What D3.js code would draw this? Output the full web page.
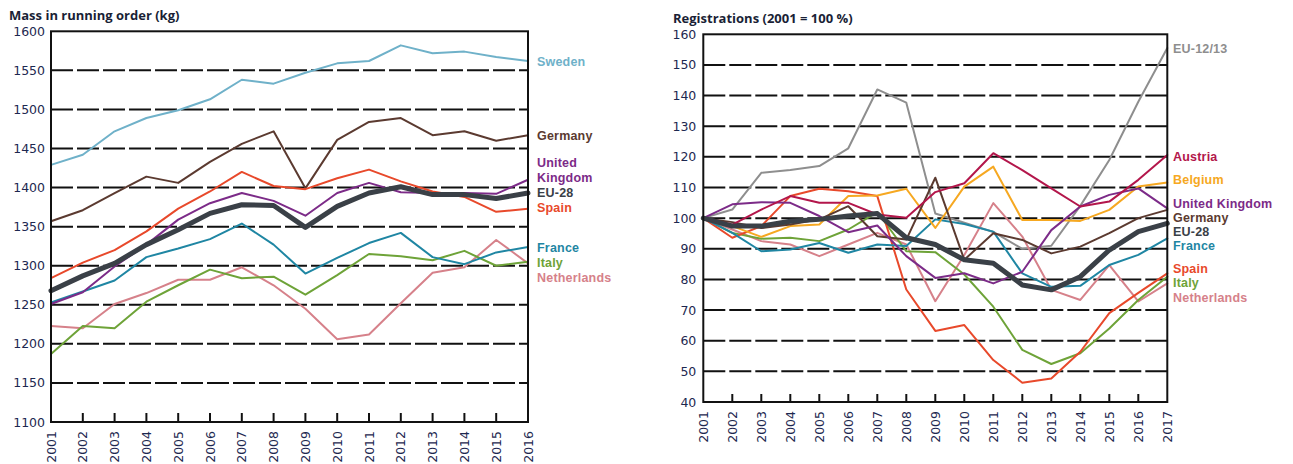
<!DOCTYPE html>
<html><head><meta charset="utf-8">
<script src="https://cdn.jsdelivr.net/npm/d3@7"></script>
<style>
html,body{margin:0;padding:0;background:#fff;}
svg{display:block;}
.tick-label{font-family:"DejaVu Sans",sans-serif;font-size:12.5px;fill:#1d2850;}
.title{font-family:"Open Sans",sans-serif;font-size:13px;font-weight:700;fill:#1a1f36;}
.lab{font-family:"Liberation Sans",Arial,sans-serif;font-size:12.5px;font-weight:700;letter-spacing:0.2px;}
</style>
</head><body>
<script>
// ---------- data: left chart (mass in running order, kg) ----------
const massYears = [2001,2002,2003,2004,2005,2006,2007,2008,2009,2010,2011,2012,2013,2014,2015,2016];
const massTicks = [1100,1150,1200,1250,1300,1350,1400,1450,1500,1550,1600];
const massSweden      = [1429,1442,1472,1489,1499,1513,1538,1533,1547,1559,1562,1582,1572,1574,1567,1562];
const massGermany     = [1357,1371,1393,1414,1406,1433,1456,1472,1399,1461,1484,1489,1467,1472,1460,1467];
const massUK          = [1251,1266,1299,1327,1359,1380,1393,1383,1364,1393,1406,1394,1393,1393,1392,1410];
const massEU28        = [1268,1287,1303,1327,1346,1367,1378,1377,1349,1376,1393,1401,1391,1391,1386,1393];
const massSpain       = [1284,1304,1320,1344,1373,1395,1420,1402,1398,1412,1423,1408,1395,1388,1369,1373];
const massFrance      = [1253,1267,1281,1311,1322,1334,1354,1327,1290,1310,1329,1342,1311,1302,1317,1324];
const massItaly       = [1187,1223,1220,1254,1275,1295,1284,1286,1263,1288,1315,1312,1307,1319,1300,1305];
const massNetherlands = [1223,1220,1251,1265,1282,1282,1298,1275,1245,1206,1212,1252,1291,1298,1333,1303];

// ---------- data: right chart (registrations, 2001 = 100 %) ----------
const regYears = [2001,2002,2003,2004,2005,2006,2007,2008,2009,2010,2011,2012,2013,2014,2015,2016,2017];
const regTicks = [40,50,60,70,80,90,100,110,120,130,140,150,160];
const regEU1213      = [100,102.8,114.8,115.7,117,122.8,142,137.7,101.5,98.5,95.5,90,91,104,119,138,155.5];
const regAustria     = [100,97.9,102.8,107.2,105,105,101.2,100.1,108.5,111.4,121.2,115.7,109.7,103.8,105.4,112.5,120.6];
const regBelgium     = [100,97.4,93.9,97.4,97.9,107.2,107.4,109.6,96.8,110.3,116.8,99.4,99.4,99.1,102.7,110.3,111.6];
const regUK          = [100,104.5,105.2,105,100.7,95.4,97.6,87.6,80.5,82,78.7,82.5,96.1,103.8,107.6,109.7,103.2];
const regGermany     = [100,98.7,96.8,97.9,99.6,103.9,94.1,93,113.2,86.4,95.1,92.9,88.5,90.7,95.1,100,102.7];
const regEU28        = [100,97.4,97.4,99,99.6,100.7,101.5,93.6,91.4,86.4,85.3,78.2,76.6,80.9,89.6,95.6,98.3];
const regFrance      = [100,95.2,89.2,89.8,91.9,88.7,91.4,90.9,99.6,98.1,95.6,82,77.6,77.9,84.7,88,93.4];
const regSpain       = [100,93.6,97.4,107.2,109.6,108.8,107.2,76.7,63.2,65.1,53.7,46.3,47.7,56.4,69,75.6,82];
const regItaly       = [100,95.2,93.3,93.6,92.5,96.3,102,89.2,88.9,81.6,71.1,57,52.4,55.9,64,73.3,80.9];
const regNetherlands = [100,96.3,92.5,91.4,87.6,91.4,95.2,91.4,72.9,88,104.9,94,76.6,73.3,84.7,72.8,78.7];

// ---------- styles / layout ----------
const C = {
  sweden:"#6fb1c9", germany:"#5b3a30", uk:"#7c2b88", eu28:"#3a4047", spain:"#e8492b",
  france:"#1f86a3", italy:"#6ea338", netherlands:"#d6818a", eu1213:"#8e8e8e",
  austria:"#b3164b", belgium:"#f6a821"
};

const W = 1293, H = 464;
const svg = d3.select("body").append("svg").attr("width", W).attr("height", H);

function drawPanel(cfg){
  const g = svg.append("g");
  const x = d3.scaleLinear().domain([cfg.years[0], cfg.years[cfg.years.length-1]]).range([cfg.x0, cfg.x1]);
  const y = d3.scaleLinear().domain([cfg.ticks[0], cfg.ticks[cfg.ticks.length-1]]).range([cfg.y1, cfg.y0]);

  // gridlines (dashed)
  g.selectAll("line.grid").data(cfg.ticks.slice(1, -1)).enter().append("line")
    .attr("x1", cfg.x0).attr("x2", cfg.x1)
    .attr("y1", d => y(d)).attr("y2", d => y(d))
    .attr("stroke", "#111").attr("stroke-width", 2).attr("stroke-dasharray", "22,4");

  // y axis labels
  const ya = d3.axisLeft(y).tickValues(cfg.ticks).tickSize(0).tickPadding(cfg.ypad).tickFormat(d3.format("d"));
  const yg = g.append("g").attr("transform", `translate(${cfg.x0},0)`).call(ya);
  yg.select(".domain").remove();
  yg.selectAll("text").attr("class", "tick-label").attr("font-size", null).attr("font-family", null).attr("fill", null);

  // x ticks (inside, upward)
  g.selectAll("line.xt").data(cfg.years.slice(1, -1)).enter().append("line")
    .attr("x1", d => x(d)).attr("x2", d => x(d))
    .attr("y1", cfg.y1).attr("y2", cfg.y1 - cfg.tickLen)
    .attr("stroke", "#111").attr("stroke-width", 2);

  // x labels rotated
  g.selectAll("text.xl").data(cfg.years).enter().append("text")
    .attr("class", "tick-label")
    .attr("transform", d => `translate(${x(d)},${cfg.y1 + 9}) rotate(-90)`)
    .attr("text-anchor", "end").attr("dy", "0.36em")
    .text(d => d);

  // series
  const line = d3.line().x((d, i) => x(cfg.years[i])).y(d => y(d));
  cfg.series.forEach(s => {
    g.append("path").datum(s.values)
      .attr("fill", "none").attr("stroke", s.color)
      .attr("stroke-width", s.width || 2)
      .attr("stroke-linejoin", "round").attr("stroke-linecap", "round")
      .attr("d", line);
  });

  // frame
  g.append("rect").attr("x", cfg.x0).attr("y", cfg.y0)
    .attr("width", cfg.x1 - cfg.x0).attr("height", cfg.y1 - cfg.y0)
    .attr("fill", "none").attr("stroke", "#111").attr("stroke-width", 2);

  // title
  svg.append("text").attr("class", "title").attr("x", cfg.titleX).attr("y", cfg.titleY).text(cfg.title);

  // labels
  cfg.labels.forEach(l => {
    svg.append("text").attr("class", "lab").attr("x", cfg.labelX).attr("y", l.y)
      .attr("fill", l.color).text(l.text);
  });
}

drawPanel({
  years: massYears, ticks: massTicks,
  x0: 51, x1: 528, y0: 31.3, y1: 422, ypad: 6, tickLen: 9,
  title: "Mass in running order (kg)", titleX: 9, titleY: 19.5,
  labelX: 537,
  series: [
    {values: massSweden, color: C.sweden},
    {values: massNetherlands, color: C.netherlands},
    {values: massItaly, color: C.italy},
    {values: massFrance, color: C.france},
    {values: massGermany, color: C.germany},
    {values: massSpain, color: C.spain},
    {values: massUK, color: C.uk},
    {values: massEU28, color: C.eu28, width: 5}
  ],
  labels: [
    {text: "Sweden", y: 66, color: C.sweden},
    {text: "Germany", y: 140, color: C.germany},
    {text: "United", y: 166.5, color: C.uk},
    {text: "Kingdom", y: 182, color: C.uk},
    {text: "EU-28", y: 197, color: C.eu28},
    {text: "Spain", y: 211.5, color: C.spain},
    {text: "France", y: 251.5, color: C.france},
    {text: "Italy", y: 266.5, color: C.italy},
    {text: "Netherlands", y: 281.5, color: C.netherlands}
  ]
});

drawPanel({
  years: regYears, ticks: regTicks,
  x0: 703.3, x1: 1167.3, y0: 34.3, y1: 402, ypad: 7, tickLen: 8,
  title: "Registrations (2001 = 100 %)", titleX: 673, titleY: 22.5,
  labelX: 1173,
  series: [
    {values: regEU1213, color: C.eu1213},
    {values: regNetherlands, color: C.netherlands},
    {values: regItaly, color: C.italy},
    {values: regSpain, color: C.spain},
    {values: regFrance, color: C.france},
    {values: regBelgium, color: C.belgium},
    {values: regGermany, color: C.germany},
    {values: regUK, color: C.uk},
    {values: regAustria, color: C.austria},
    {values: regEU28, color: C.eu28, width: 5}
  ],
  labels: [
    {text: "EU-12/13", y: 53, color: C.eu1213},
    {text: "Austria", y: 161, color: C.austria},
    {text: "Belgium", y: 183.5, color: C.belgium},
    {text: "United Kingdom", y: 208, color: C.uk},
    {text: "Germany", y: 222, color: C.germany},
    {text: "EU-28", y: 236, color: C.eu28},
    {text: "France", y: 250, color: C.france},
    {text: "Spain", y: 272.5, color: C.spain},
    {text: "Italy", y: 287, color: C.italy},
    {text: "Netherlands", y: 301.5, color: C.netherlands}
  ]
});
</script>
</body></html>
